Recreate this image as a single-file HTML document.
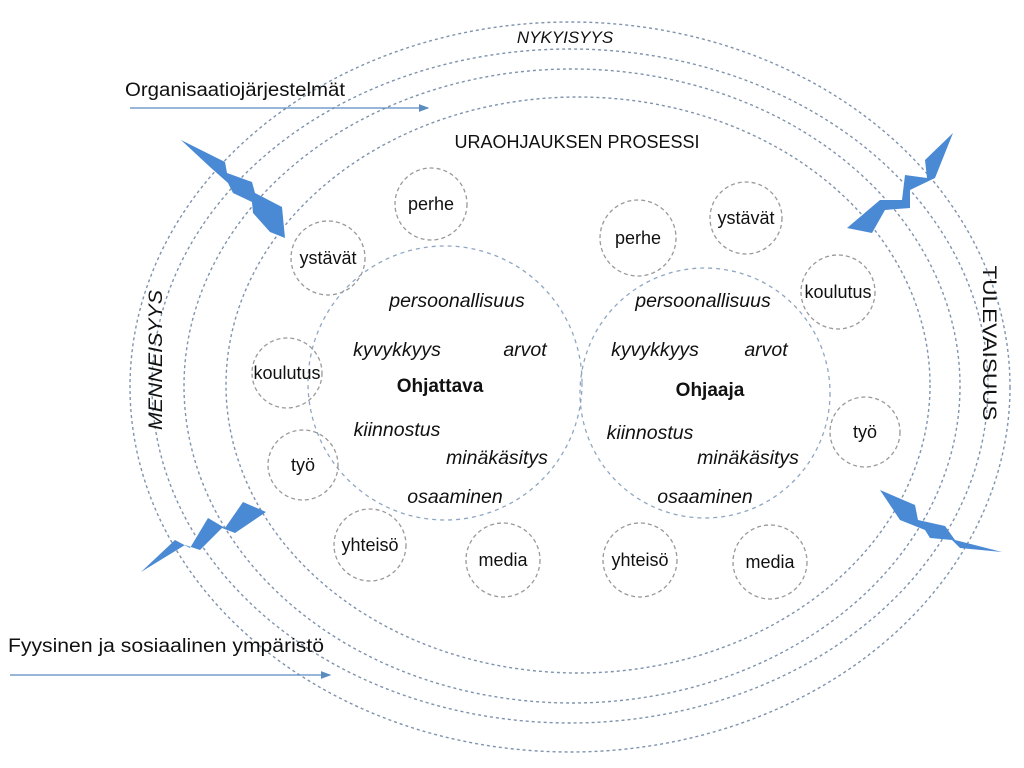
<!DOCTYPE html>
<html><head><meta charset="utf-8"><style>
html,body{margin:0;padding:0;background:#fff;width:1024px;height:768px;overflow:hidden}
svg text{font-family:"Liberation Sans",sans-serif;fill:#111}
.i{font-style:italic;font-size:19.5px}
.s{font-size:18px}
</style></head><body>
<svg width="1024" height="768" viewBox="0 0 1024 768" xmlns="http://www.w3.org/2000/svg">
<defs><marker id="ar" markerWidth="8" markerHeight="8" refX="7" refY="4" orient="auto"><path d="M0,1 L8,4 L0,7z" fill="#5b8cc0"/></marker></defs>
<g fill="none" stroke="#7f93ad" stroke-width="1.4" stroke-dasharray="3,3">
<ellipse cx="570" cy="387" rx="440" ry="365"/>
<ellipse cx="570" cy="386" rx="418" ry="337"/>
<ellipse cx="572" cy="386" rx="388" ry="317"/>
<ellipse cx="578" cy="385" rx="352" ry="288"/>
</g>
<g fill="none" stroke="#8fa6c2" stroke-width="1.3" stroke-dasharray="4,4">
<circle cx="445" cy="383" r="137"/>
<circle cx="705" cy="393" r="125"/>
</g>
<g fill="none" stroke="#999" stroke-width="1.3" stroke-dasharray="4,3">
<circle cx="431" cy="204" r="36"/>
<circle cx="328" cy="258" r="37"/>
<circle cx="287" cy="373" r="35"/>
<circle cx="303" cy="465" r="35"/>
<circle cx="370" cy="545" r="36"/>
<circle cx="503" cy="560" r="37"/>
<circle cx="638" cy="238" r="38"/>
<circle cx="746" cy="218" r="36"/>
<circle cx="838" cy="292" r="37"/>
<circle cx="865" cy="432" r="35"/>
<circle cx="640" cy="560" r="37"/>
<circle cx="770" cy="562" r="37"/>
</g>
<g fill="#4a8ad4">
<polygon points="181,140 225,162 227,173 252,182 255,193 282,207 285,238 270,232 253,213 252,202 233,193 228,183 210,167"/>
<polygon points="953,133 925,160 927,178 905,175 902,200 880,200 847,228 872,233 885,210 910,208 910,190 935,178"/>
<polygon points="880,490 915,505 918,520 945,526 955,540 1002,552 960,548 952,540 930,538 925,530 900,520"/>
<polygon points="141,572 175,540 190,548 208,518 225,528 243,502 266,512 235,533 222,528 200,550 185,545"/>
</g>
<line x1="130" y1="108" x2="428" y2="108" stroke="#5b8cc0" stroke-width="1.3" marker-end="url(#ar)"/>
<line x1="10" y1="675" x2="330" y2="675" stroke="#5b8cc0" stroke-width="1.3" marker-end="url(#ar)"/>
<text x="125" y="96" style="font-size:19px" textLength="220" lengthAdjust="spacingAndGlyphs">Organisaatiojärjestelmät</text>
<text x="8" y="652" style="font-size:19px" textLength="316" lengthAdjust="spacingAndGlyphs">Fyysinen ja sosiaalinen ympäristö</text>
<text x="565" y="43" class="i" text-anchor="middle" style="font-size:17px">NYKYISYYS</text>
<text x="577" y="148" text-anchor="middle" style="font-size:18px">URAOHJAUKSEN PROSESSI</text>
<text transform="translate(162,360) rotate(-90)" class="i" text-anchor="middle" style="font-size:19px" textLength="140" lengthAdjust="spacingAndGlyphs">MENNEISYYS</text>
<text transform="translate(983,343) rotate(90)" text-anchor="middle" style="font-size:19px" textLength="155" lengthAdjust="spacingAndGlyphs">TULEVAISUUS</text>
<g class="s" text-anchor="middle">
<text x="431" y="210">perhe</text>
<text x="328" y="264">ystävät</text>
<text x="287" y="379">koulutus</text>
<text x="303" y="471">työ</text>
<text x="370" y="551">yhteisö</text>
<text x="503" y="566">media</text>
<text x="638" y="244">perhe</text>
<text x="746" y="224">ystävät</text>
<text x="838" y="298">koulutus</text>
<text x="865" y="438">työ</text>
<text x="640" y="566">yhteisö</text>
<text x="770" y="568">media</text>
</g>
<g class="i" text-anchor="middle">
<text x="457" y="307">persoonallisuus</text>
<text x="397" y="356">kyvykkyys</text>
<text x="525" y="356">arvot</text>
<text x="397" y="436">kiinnostus</text>
<text x="497" y="464">minäkäsitys</text>
<text x="455" y="503">osaaminen</text>
<text x="703" y="307">persoonallisuus</text>
<text x="655" y="356">kyvykkyys</text>
<text x="766" y="356">arvot</text>
<text x="650" y="439">kiinnostus</text>
<text x="748" y="464">minäkäsitys</text>
<text x="705" y="503">osaaminen</text>
</g>
<text x="440" y="392" text-anchor="middle" font-weight="bold" font-size="19">Ohjattava</text>
<text x="710" y="396" text-anchor="middle" font-weight="bold" font-size="19">Ohjaaja</text>
</svg>
</body></html>
